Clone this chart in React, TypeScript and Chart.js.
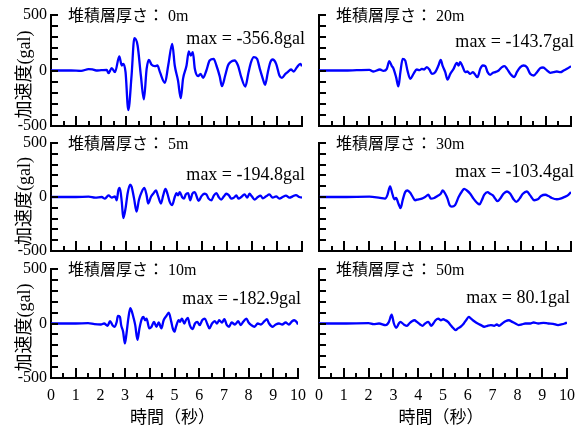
import React, { useEffect, useRef } from "react";
import { Chart, registerables } from "chart.js";

Chart.register(...registerables);

// ---------------- data ----------------
const TITLES = ["堆積層厚さ： 0m", "堆積層厚さ： 20m", "堆積層厚さ： 5m", "堆積層厚さ： 30m", "堆積層厚さ： 10m", "堆積層厚さ： 50m"];
const MAX_LABELS = ["max = -356.8gal", "max = -143.7gal", "max = -194.8gal", "max = -103.4gal", "max = -182.9gal", "max = 80.1gal"];
const Y_TICKS = [-500, 0, 500];
const X_TICKS = [0, 1, 2, 3, 4, 5, 6, 7, 8, 9, 10];
const Y_AXIS_TITLE = "加速度(gal)";
const X_AXIS_TITLE = "時間（秒）";

const t0m = [0, 0.8, 1.2, 1.5, 1.65, 1.8, 2.0, 2.22, 2.29, 2.42, 2.55, 2.72, 2.82, 2.88, 2.97, 3.08, 3.21, 3.32, 3.45, 3.58, 3.70, 3.81, 3.90, 4.01, 4.14, 4.24, 4.34, 4.54, 4.67, 4.83, 4.93, 5.06, 5.17, 5.26, 5.40, 5.49, 5.57, 5.65, 5.73, 5.86, 5.96, 6.06, 6.19, 6.32, 6.48, 6.59, 6.72, 6.81, 6.94, 7.05, 7.15, 7.31, 7.45, 7.58, 7.74, 7.87, 7.97, 8.08, 8.21, 8.32, 8.44, 8.53, 8.64, 8.74, 8.83, 8.97, 9.10, 9.20, 9.34, 9.43, 9.56, 9.67, 9.80, 9.93, 10.0];
const a0m = [0, 0, -3, 12, 10, 0, 3, 6, -24, 21, -15, 126, 45, 60, -15, -356.8, -45, 291, 225, -45, -261, 15, 96, 51, 39, 45, -15, -111, 45, 240, 45, -90, -249, -75, 45, 171, 135, 165, 15, -51, -30, -66, 0, 90, 105, 45, -51, -141, -45, 45, 75, 90, 45, -60, -144, -15, 75, 120, 105, 15, -75, -129, -15, 75, 99, 60, -45, -66, -30, -15, 9, -9, 30, 60, 39];

const t20m = [0, 1.0, 1.5, 2.0, 2.16, 2.42, 2.56, 2.69, 2.79, 2.89, 2.95, 3.06, 3.15, 3.23, 3.32, 3.42, 3.51, 3.62, 3.75, 3.88, 3.99, 4.08, 4.17, 4.28, 4.38, 4.48, 4.61, 4.74, 4.83, 4.91, 5.01, 5.10, 5.21, 5.34, 5.47, 5.54, 5.60, 5.71, 5.80, 5.89, 6.00, 6.11, 6.20, 6.29, 6.40, 6.50, 6.60, 6.69, 6.79, 6.90, 6.99, 7.13, 7.26, 7.36, 7.46, 7.59, 7.75, 7.85, 7.99, 8.12, 8.25, 8.38, 8.52, 8.65, 8.78, 8.89, 9.05, 9.18, 9.31, 9.44, 9.58, 9.71, 9.84, 10.0];
const a20m = [0, 0, 3, 6, -9, 9, -3, 15, 84, 39, 21, -60, -143.7, -15, 105, 90, 0, -75, -30, 9, 3, 15, 9, 30, 9, -30, -15, 45, 96, 39, -15, -81, -30, 15, 69, 45, 75, 30, -15, -9, -30, -15, -39, -60, 15, 45, 39, -15, -39, -21, -15, 0, 30, 39, 15, -30, -60, -15, 30, 45, 30, -30, -45, -15, 21, 27, 0, -21, -15, -9, -15, 0, 15, 39];

const t5m = [0, 1.0, 1.5, 1.76, 2.02, 2.15, 2.29, 2.42, 2.55, 2.62, 2.68, 2.74, 2.82, 2.88, 2.98, 3.05, 3.15, 3.21, 3.31, 3.41, 3.50, 3.61, 3.72, 3.81, 3.87, 3.98, 4.07, 4.18, 4.27, 4.38, 4.47, 4.56, 4.64, 4.73, 4.83, 4.93, 5.00, 5.06, 5.13, 5.22, 5.30, 5.37, 5.46, 5.55, 5.63, 5.73, 5.81, 5.88, 5.99, 6.10, 6.19, 6.28, 6.39, 6.49, 6.59, 6.68, 6.78, 6.89, 6.98, 7.09, 7.18, 7.29, 7.38, 7.47, 7.58, 7.71, 7.82, 7.91, 8.00, 8.11, 8.24, 8.35, 8.44, 8.57, 8.70, 8.83, 8.97, 9.10, 9.23, 9.36, 9.50, 9.63, 9.76, 9.89, 10.0];
const a5m = [0, 0, 3, -6, 0, -15, 15, -6, 6, -30, 60, 84, -45, -194.8, -90, 30, 114, 96, -15, -135, -30, 45, 84, 15, -60, 0, 30, 60, 6, -60, 15, 75, 30, -45, -75, 0, 36, 15, 45, 0, -15, 24, 36, -30, 30, 45, 0, -36, 6, 30, 24, -15, -30, 15, 36, 0, -24, 6, 30, 15, -15, -6, 15, -15, 0, 24, -6, 30, 6, -24, 0, 12, -12, 6, 24, -6, 6, -15, 0, 12, -6, 6, 18, 0, -6];

const t30m = [0, 1.0, 2.0, 2.42, 2.62, 2.71, 2.82, 2.91, 2.99, 3.06, 3.15, 3.24, 3.32, 3.42, 3.51, 3.62, 3.72, 3.81, 3.95, 4.08, 4.21, 4.34, 4.44, 4.57, 4.70, 4.83, 4.91, 5.01, 5.10, 5.18, 5.27, 5.40, 5.54, 5.67, 5.76, 5.87, 6.00, 6.13, 6.26, 6.37, 6.46, 6.56, 6.69, 6.79, 6.90, 6.99, 7.09, 7.19, 7.32, 7.46, 7.59, 7.72, 7.83, 7.96, 8.09, 8.25, 8.38, 8.54, 8.68, 8.81, 8.98, 9.11, 9.24, 9.44, 9.58, 9.74, 9.87, 10.0];
const a30m = [0, 0, 3, -9, -15, 15, 99, 30, -21, -9, -60, -103.4, -30, 45, 60, 39, 0, -30, -21, -15, 0, 21, -15, -9, 9, 30, 60, 30, -15, -75, -90, -75, 0, 51, 75, 60, 30, -15, -51, -69, -30, 21, 45, 30, 15, -15, -39, -15, 30, 51, 30, -21, -45, -15, 30, 51, 15, -30, -21, 9, 21, 9, -9, -21, -15, 0, 15, 45];

const t10m = [0, 1.0, 1.5, 1.76, 2.02, 2.15, 2.29, 2.39, 2.49, 2.58, 2.66, 2.71, 2.79, 2.84, 2.92, 2.99, 3.05, 3.13, 3.21, 3.28, 3.35, 3.41, 3.50, 3.58, 3.68, 3.74, 3.81, 3.87, 3.98, 4.07, 4.17, 4.27, 4.36, 4.47, 4.56, 4.67, 4.77, 4.87, 4.93, 5.00, 5.06, 5.17, 5.22, 5.30, 5.40, 5.46, 5.54, 5.62, 5.73, 5.83, 5.92, 6.02, 6.12, 6.23, 6.32, 6.41, 6.52, 6.63, 6.72, 6.81, 6.92, 7.02, 7.12, 7.21, 7.31, 7.45, 7.58, 7.68, 7.78, 7.91, 8.00, 8.11, 8.24, 8.37, 8.50, 8.64, 8.74, 8.83, 8.97, 9.10, 9.23, 9.36, 9.50, 9.63, 9.76, 9.85, 9.96, 10.0];
const a10m = [0, 0, 3, -6, -9, 0, -21, 21, -15, -30, 15, 69, 60, -15, -75, -182.9, -105, 45, 141, 105, 45, -15, -150, -45, 45, 60, 30, 45, -45, -30, 15, -30, 9, -45, 30, 69, 99, 15, -45, -75, -30, 30, 15, 45, 0, 30, 51, -15, -51, 0, 15, -15, 30, 45, 0, -45, 0, 21, 0, 30, 9, 39, -15, -30, 9, -9, 21, -15, 15, 45, 9, -15, -30, 0, -9, 21, 39, 0, -30, -9, 0, -9, 9, -9, 21, 30, 9, -9];

const t50m = [0, 1.0, 2.0, 2.2, 2.42, 2.69, 2.82, 2.93, 3.02, 3.11, 3.22, 3.28, 3.42, 3.55, 3.64, 3.75, 3.85, 3.95, 4.08, 4.17, 4.28, 4.41, 4.52, 4.61, 4.70, 4.81, 4.91, 5.01, 5.10, 5.20, 5.31, 5.40, 5.51, 5.60, 5.71, 5.84, 5.93, 6.04, 6.13, 6.26, 6.40, 6.53, 6.66, 6.79, 6.93, 7.06, 7.17, 7.26, 7.39, 7.52, 7.66, 7.79, 7.92, 8.05, 8.18, 8.32, 8.52, 8.65, 8.85, 9.05, 9.25, 9.44, 9.64, 9.77, 9.91, 10.0];
const a50m = [0, 0, 3, -6, 0, -15, 15, 80.1, 0, -39, 0, 15, -9, -21, 0, 21, 30, 15, -9, -21, 0, 15, -21, 0, 30, 45, 30, 39, 30, 15, -15, -39, -60, -45, -30, 0, 30, 60, 45, 21, 0, -15, -30, -21, -15, -21, -9, -21, 0, 21, 30, 15, 0, -15, -9, 0, 0, 9, 0, 6, 0, -3, -15, -9, 0, 9];

const SERIES_TIMES = [t0m, t20m, t5m, t30m, t10m, t50m];
const SERIES_VALUES = [a0m, a20m, a5m, a30m, a10m, a50m];

// ---------------- layout ----------------
const FONT = '"Liberation Serif", "Noto Sans CJK JP", serif';
const COL_LEFT = [51, 319];
const COL_RIGHT = [302, 571];
const ROW_TOP = [15, 143, 269];
const ROW_BOTTOM = [126, 251, 378];
const Y_W = 51;
const X_H = 50;
const PAD_TOP = 15;
const PAD_RIGHT = 12;
const MAX_DY = [24, 27, 32, 29, 30, 29];

Chart.defaults.font.family = FONT;
Chart.defaults.color = "#000";

function geom(idx: number) {
  const col = idx % 2;
  const row = Math.floor(idx / 2);
  const left = COL_LEFT[col] - Y_W;
  const top = ROW_TOP[row] - PAD_TOP;
  const width = Y_W + (COL_RIGHT[col] - COL_LEFT[col]) + PAD_RIGHT;
  const height = PAD_TOP + (ROW_BOTTOM[row] - ROW_TOP[row]) + X_H;
  return { col, row, left, top, width, height };
}

function Panel({ idx }: { idx: number }) {
  const ref = useRef<HTMLCanvasElement>(null);
  const g = geom(idx);
  useEffect(() => {
    if (!ref.current) return;
    const times = SERIES_TIMES[idx];
    const vals = SERIES_VALUES[idx];
    const pts = times.map((t, i) => ({ x: t, y: vals[i] }));
    const decor = {
      id: "decor" + idx,
      afterDraw(chart: any) {
        const { ctx, chartArea: a, scales } = chart;
        const xs = scales.x;
        const ys = scales.y;
        ctx.save();
        ctx.strokeStyle = "#000";
        ctx.lineWidth = 2;
        ctx.lineCap = "butt";
        for (let v = -500; v <= 500; v += 100) {
          const py = Math.round(ys.getPixelForValue(v));
          ctx.beginPath();
          ctx.moveTo(a.left, py);
          ctx.lineTo(a.left + 7, py);
          ctx.stroke();
        }
        for (let k = 0; k <= 20; k++) {
          const v = k / 2;
          const px = Math.round(xs.getPixelForValue(v));
          const len = k % 2 === 0 ? 10 : 5;
          ctx.beginPath();
          ctx.moveTo(px, a.bottom);
          ctx.lineTo(px, a.bottom - len);
          ctx.stroke();
        }
        ctx.fillStyle = "#000";
        ctx.textBaseline = "middle";
        ctx.textAlign = "left";
        ctx.font = `16px ${FONT}`;
        ctx.fillText(TITLES[idx], a.left + 17, a.top + 2);
        ctx.textAlign = "right";
        ctx.font = `18px ${FONT}`;
        ctx.fillText(MAX_LABELS[idx], a.right + 3, a.top + MAX_DY[idx]);
        if (g.col === 0) {
          ctx.save();
          ctx.translate(25, (a.top + a.bottom) / 2 + 4);
          ctx.rotate(-Math.PI / 2);
          ctx.textAlign = "center";
          ctx.font = `18px ${FONT}`;
          ctx.fillText(Y_AXIS_TITLE, 0, 0);
          ctx.restore();
        }
        if (g.row === 2) {
          ctx.textAlign = "center";
          ctx.font = `17px ${FONT}`;
          ctx.fillText(X_AXIS_TITLE, (a.left + a.right) / 2 - 2, a.bottom + 41);
        }
        ctx.restore();
      },
    };
    const chart = new Chart(ref.current, {
      type: "line",
      data: {
        datasets: [
          {
            data: pts,
            borderColor: "#0000ff",
            borderWidth: 2.3,
            pointRadius: 0,
            fill: false,
            cubicInterpolationMode: "monotone",
          },
        ],
      },
      options: {
        responsive: false,
        animation: false,
        devicePixelRatio: 1,
        layout: { padding: { left: 0, right: PAD_RIGHT, top: PAD_TOP, bottom: 0 } },
        plugins: { legend: { display: false }, tooltip: { enabled: false } },
        scales: {
          x: {
            type: "linear",
            min: 0,
            max: 10,
            afterFit: (s: any) => {
              s.height = X_H;
            },
            afterBuildTicks: (s: any) => {
              s.ticks = X_TICKS.map((v) => ({ value: v }));
            },
            grid: { display: false, drawTicks: false },
            border: { display: true, color: "#000", width: 2 },
            ticks: {
              display: g.row === 2,
              padding: 8,
              color: "#000",
              font: { size: 16, family: FONT },
              maxRotation: 0,
              autoSkip: false,
            },
          },
          y: {
            type: "linear",
            min: -500,
            max: 500,
            afterFit: (s: any) => {
              s.width = Y_W;
            },
            afterBuildTicks: (s: any) => {
              s.ticks = Y_TICKS.map((v) => ({ value: v }));
            },
            grid: { display: false, drawTicks: false },
            border: { display: true, color: "#000", width: 2 },
            ticks: {
              display: g.col === 0,
              padding: 4,
              color: "#000",
              font: { size: 16, family: FONT },
            },
          },
        },
      },
      plugins: [decor],
    } as any);
    return () => chart.destroy();
  }, []);
  return (
    <canvas
      ref={ref}
      width={g.width}
      height={g.height}
      style={{ position: "absolute", left: g.left, top: g.top, width: g.width, height: g.height }}
    />
  );
}

export default function App() {
  return (
    <div style={{ position: "fixed", left: 0, top: 0, width: 585, height: 430, background: "#fff", overflow: "hidden" }}>
      {[0, 1, 2, 3, 4, 5].map((i) => (
        <Panel key={i} idx={i} />
      ))}
    </div>
  );
}
